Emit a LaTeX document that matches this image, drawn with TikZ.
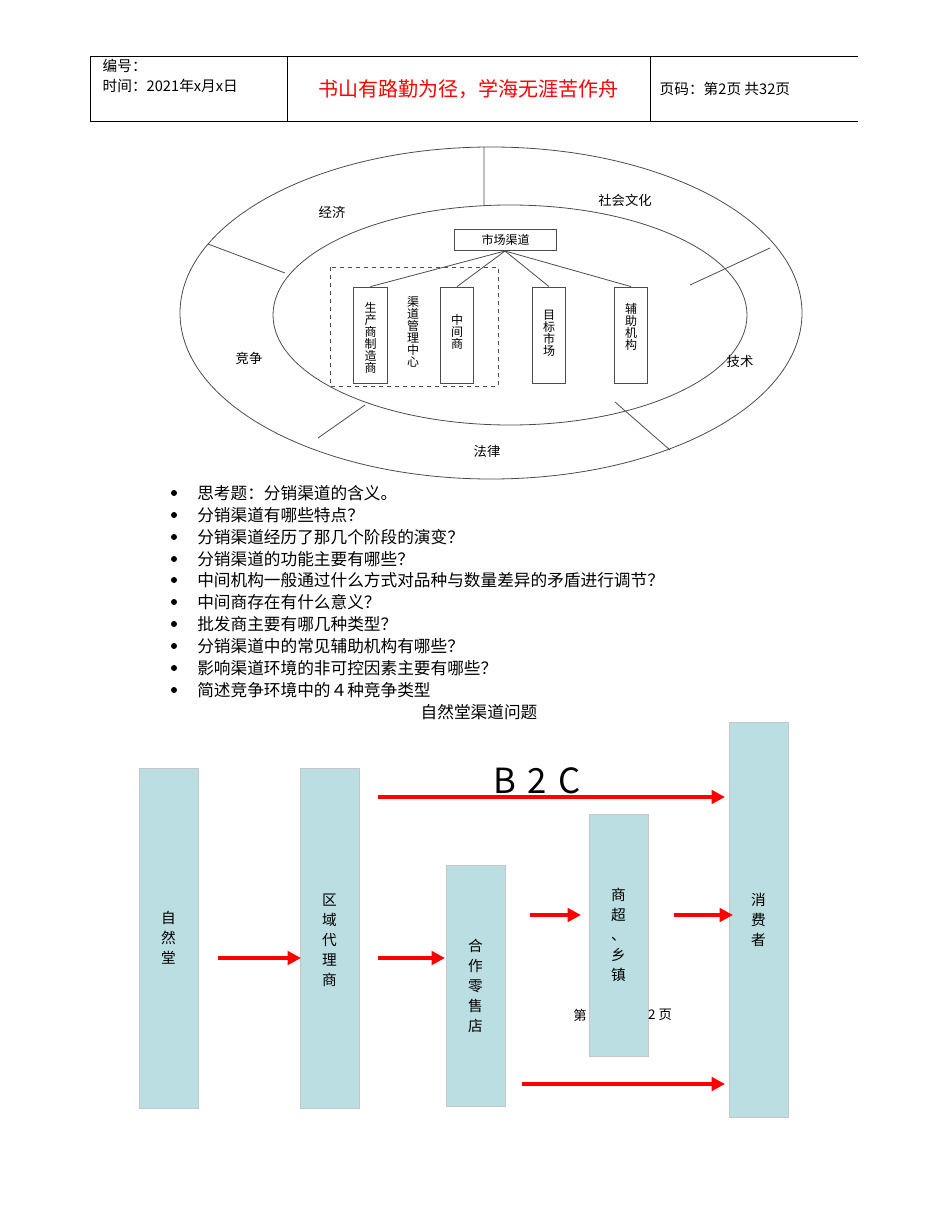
\documentclass[tikz,border=0pt]{standalone}
\usepackage{fontspec}
\setmainfont{Noto Sans CJK SC}
\usetikzlibrary{arrows.meta}
\definecolor{boxfill}{HTML}{BADEE2}
\begin{document}
\begin{tikzpicture}[x=0.75pt,y=-0.75pt,
  thin line/.style={draw=black!70,line width=0.6pt},
  ibox/.style={draw=black!70,line width=0.6pt,fill=white},
  tbox/.style={fill=boxfill,draw=gray!45,line width=0.4pt},
  vtxt/.style={align=center,inner sep=0pt},
  redarrow/.style={draw=red,line width=2.6pt,-{Triangle[length=10pt,width=10pt]}},
  lab/.style={font=\fontsize{10}{12}\selectfont}]
\useasboundingbox (0,0) rectangle (950,1230);
% header
\draw[line width=0.6pt] (90,56) -- (858,56) (90,121) -- (858,121) (90,56) -- (90,121) (287,56) -- (287,121) (650,56) -- (650,121);
\node[anchor=west,font=\fontsize{11}{13}\selectfont] (h1) at (98,66) {编号：};
\node[anchor=west,font=\fontsize{11}{13}\selectfont] (h2) at (98,86) {时间：2021年x月x日};
\node[text=red,font=\fontsize{15}{18}\selectfont] (h3) at (468,89) {书山有路勤为径，学海无涯苦作舟};
\node[anchor=west,font=\fontsize{11}{13}\selectfont] (h4) at (655,89) {页码：第2页 共32页};
% ellipses
\draw[thin line] (491,313) ellipse [x radius=311,y radius=166];
\draw[thin line] (510,315) ellipse [x radius=237,y radius=110];
\draw[thin line] (484,147) -- (484,205) (208,244) -- (285,273) (770,248) -- (690,285) (318,438) -- (365,405) (670,450) -- (615,402);
\node[lab] (e1) at (332,212) {经济};
\node[lab] (e2) at (625,200) {社会文化};
\node[lab] (e3) at (249,358) {竞争};
\node[lab] (e4) at (740,361) {技术};
\node[lab] (e5) at (487,451) {法律};
\draw[dashed,thin line] (330,267) rectangle (498,386);
\node[ibox,minimum width=76pt,minimum height=16pt,font=\fontsize{9}{10}\selectfont] (mc) at (505.5,240) {市场渠道};
\coordinate (mcb) at (505,251);
\foreach \n/\x in {b1/370.5,b2/457,b3/549,b4/631}{
  \node[ibox,minimum width=25pt,minimum height=72pt] (\n) at (\x,335) {};
  \draw[thin line] (mcb) -- (\n.north);
}
\tikzset{itxt/.style={vtxt,font=\fontsize{9}{9}\selectfont}}
\node[itxt,anchor=north] (t1) at (370.5,302) {生\\产\\商\\制\\造\\商};
\node[itxt] (t2) at (457,332) {中\\间\\商};
\node[itxt] (t3) at (549,333) {目\\标\\市\\场};
\node[itxt] (t4) at (631,327) {辅\\助\\机\\构};
\node[itxt,anchor=north] (t5) at (413,296) {渠\\道\\管\\理\\中\\心};
% bullets
\foreach \y/\t [count=\i] in {493/思考题：分销渠道的含义。,515/分销渠道有哪些特点？,537/分销渠道经历了那几个阶段的演变？,559/分销渠道的功能主要有哪些？,580/中间机构一般通过什么方式对品种与数量差异的矛盾进行调节？,602/中间商存在有什么意义？,624/批发商主要有哪几种类型？,646/分销渠道中的常见辅助机构有哪些？,668/影响渠道环境的非可控因素主要有哪些？,690/简述竞争环境中的４种竞争类型}{
  \node[circle,fill=black,inner sep=0pt,minimum size=4.5pt] (bd\i) at (174,\y) {};
  \node[anchor=west,font=\fontsize{12.5}{14}\selectfont,inner sep=0pt] (bt\i) at (197,\y) {\t};
}
\node[font=\fontsize{12.5}{14}\selectfont] (title) at (479,712) {自然堂渠道问题};
% flow boxes
\draw[tbox] (139,768) rectangle (198,1108);
\draw[tbox] (300,768) rectangle (359,1108);
\draw[tbox] (446,865) rectangle (505,1106);
\draw[tbox] (589,814) rectangle (648,1056);
\draw[tbox] (729,722) rectangle (788,1117);
\tikzset{ftxt/.style={vtxt,font=\fontsize{11}{15}\selectfont}}
\node[ftxt] (f1) at (168.5,938) {自\\然\\堂};
\node[ftxt] (f2) at (329.5,940) {区\\域\\代\\理\\商};
\node[ftxt] (f3) at (475.5,986) {合\\作\\零\\售\\店};
\node[ftxt] (f4) at (618.5,935) {商\\超\\、\\乡\\镇};
\node[ftxt] (f5) at (758.5,920) {消\\费\\者};
\node[font=\fontsize{26}{30}\selectfont] (b2c) at (537,781) {B\,\,2\,\,C};
\node[font=\fontsize{10}{12}\selectfont] (p1) at (580,1015) {第};
\node[font=\fontsize{10}{12}\selectfont] (p2) at (660,1015) {2 页};
\coordinate (a1s) at (218,958); \coordinate (a1e) at (301,958);
\coordinate (a2s) at (378,958); \coordinate (a2e) at (445,958);
\coordinate (a3s) at (530,915); \coordinate (a3e) at (581,915);
\coordinate (a4s) at (674,915); \coordinate (a4e) at (733,915);
\coordinate (a5s) at (378,797); \coordinate (a5e) at (725,797);
\coordinate (a6s) at (522,1084); \coordinate (a6e) at (725,1084);
\foreach \k in {1,...,6}{\draw[redarrow] (a\k s) -- (a\k e);}
\end{tikzpicture}
\end{document}
